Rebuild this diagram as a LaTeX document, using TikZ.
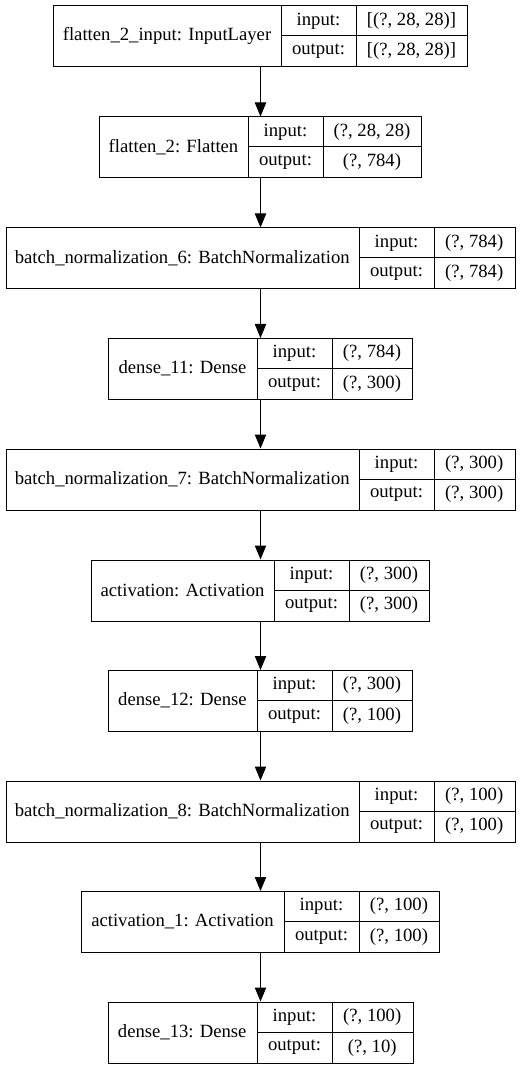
\documentclass[tikz,border=0pt]{standalone}
\usepackage{fontspec}
\setmainfont{Liberation Serif}
\newfontfamily\layerfont{Liberation Serif}
\usetikzlibrary{arrows.meta}

\tikzset{
  layerframe/.style={draw, line width=0.75pt, inner sep=0pt, minimum height=45.75pt},
  cell/.style={inner sep=0pt, font=\layerfont\fontsize{14}{16}\selectfont},
  flow/.style={-{Triangle[length=10.5pt,width=8.5pt]}, line width=0.75pt}
}

% #1 name, #2 top, #3 left, #4 #5 dividers, #6 right, #7 label, #8 input, #9 output
\newcommand{\kerasLayer}[9]{%
  \node[layerframe, anchor=north west, minimum width={(#6-#3)*0.75pt}] (#1) at (#3,#2) {};
  \draw[line width=0.75pt] (#4,#2) -- (#4,#2+61) (#5,#2) -- (#5,#2+61)
    (#4,#2+30.5) -- (#6,#2+30.5);
  \node[cell] (#1-name) at ({(#3+#4)/2},#2+30.5) {#7};
  \node[cell] (#1-inkey) at ({(#4+#5)/2},#2+15.5) {input:};
  \node[cell] (#1-outkey) at ({(#4+#5)/2},#2+46) {output:};
  \node[cell] (#1-in) at ({(#5+#6)/2},#2+15.5) {#8};
  \node[cell] (#1-out) at ({(#5+#6)/2},#2+46) {#9};
}

\begin{document}
\begin{tikzpicture}[x=0.75pt,y=-0.75pt]
  \useasboundingbox (0,0) rectangle (520,1069);
  \kerasLayer{inputlayer}{5.5}{53}{281}{356}{467}{flatten\_2\_input: InputLayer}{[(?, 28, 28)]}{[(?, 28, 28)]}
  \kerasLayer{flatten}{116.5}{99}{248}{323}{421}{flatten\_2: Flatten}{(?, 28, 28)}{(?, 784)}
  \kerasLayer{bnsix}{227.5}{5.5}{359}{434}{514.5}{batch\_normalization\_6: BatchNormalization}{(?, 784)}{(?, 784)}
  \kerasLayer{denseeleven}{338}{108}{257}{332}{412}{dense\_11: Dense}{(?, 784)}{(?, 300)}
  \kerasLayer{bnseven}{448.5}{5.5}{359}{434}{514.5}{batch\_normalization\_7: BatchNormalization}{(?, 300)}{(?, 300)}
  \kerasLayer{activation}{559.5}{91}{274}{349}{429}{activation: Activation}{(?, 300)}{(?, 300)}
  \kerasLayer{densetwelve}{670}{108}{257}{332}{412}{dense\_12: Dense}{(?, 300)}{(?, 100)}
  \kerasLayer{bneight}{780.5}{5.5}{359}{434}{514.5}{batch\_normalization\_8: BatchNormalization}{(?, 100)}{(?, 100)}
  \kerasLayer{activationone}{891}{81}{284}{359}{439}{activation\_1: Activation}{(?, 100)}{(?, 100)}
  \kerasLayer{densethirteen}{1001.5}{107.5}{257}{332}{412.5}{dense\_13: Dense}{(?, 100)}{(?, 10)}

  % connections between layers
  \foreach \a/\b in {inputlayer/flatten, flatten/bnsix, bnsix/denseeleven,
      denseeleven/bnseven, bnseven/activation, activation/densetwelve,
      densetwelve/bneight, bneight/activationone, activationone/densethirteen}
    \draw[flow] (\a.south) -- (\b.north);
\end{tikzpicture}
\end{document}
